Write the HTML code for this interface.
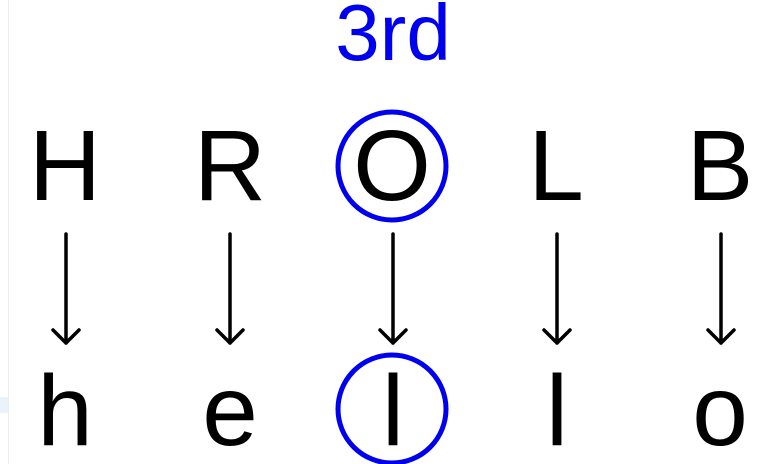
<!DOCTYPE html>
<html><head><style>html,body{margin:0;padding:0;background:#fff;}svg{display:block}</style></head><body>
<svg width="784" height="464" xmlns="http://www.w3.org/2000/svg" font-family="Liberation Sans, sans-serif">
<rect x="0" y="0" width="784" height="464" fill="#fff"/>
<line x1="8.5" y1="0" x2="8.5" y2="464" stroke="#ececec" stroke-width="1"/>
<rect x="0" y="397" width="8" height="16" fill="#eaf3fc"/>
<text x="393" y="60" font-size="80" fill="#0000ee" text-anchor="middle">3rd</text>
<g font-size="100" fill="#000" text-anchor="middle">
<text x="65" y="200">H</text>
<text x="230" y="200">R</text>
<text x="392" y="200">O</text>
<text x="556" y="200">L</text>
<text x="720" y="200">B</text>
<text x="65" y="445">h</text>
<text x="230" y="445">e</text>
<text x="393" y="445">l</text>
<text x="557" y="445">l</text>
<text x="720" y="445">o</text>
</g>
<g stroke="#000" stroke-width="3.5" fill="none" stroke-linecap="round" stroke-linejoin="round">
<path d="M66 234V343M53 330L66 343L79 330"/>
<path d="M230 234V343M217 330L230 343L243 330"/>
<path d="M393 234V343M380 330L393 343L406 330"/>
<path d="M557 234V343M544 330L557 343L570 330"/>
<path d="M721 234V343M708 330L721 343L734 330"/>
</g>
<circle cx="392" cy="166" r="54" stroke="#0000ee" stroke-width="5" fill="none"/>
<circle cx="392" cy="409" r="54" stroke="#0000ee" stroke-width="5" fill="none"/>
</svg>
</body></html>
